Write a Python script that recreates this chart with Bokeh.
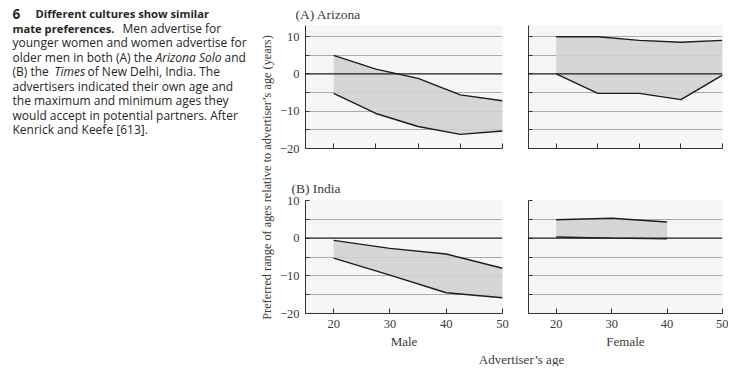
import math
from bokeh.plotting import figure
from bokeh.models import Range1d, FixedTicker, Span, Title
from bokeh.layouts import row, column
from bokeh.core.properties import value
from bokeh.embed import file_html
from bokeh.resources import INLINE

# ---------------- data ----------------
az_ages = [20, 27.5, 35, 42.5, 50]
az_male_max = [5.0, 1.3, -1.2, -5.6, -7.2]
az_male_min = [-5.2, -10.6, -14.1, -16.2, -15.3]
az_female_max = [10.0, 10.0, 9.0, 8.5, 9.0]
az_female_min = [0.0, -5.2, -5.2, -6.9, -0.3]

in_male_ages = [20, 30, 40, 50]
in_male_max = [-0.6, -2.7, -4.2, -8.0]
in_male_min = [-5.3, -9.8, -14.5, -15.8]
in_female_ages = [20, 30, 40]
in_female_max = [4.9, 5.3, 4.3]
in_female_min = [0.3, 0.0, -0.2]

y_ticks = [-20, -15, -10, -5, 0, 5, 10]
y_labels = {-20: "\u221220", -15: "", -10: "\u221210", -5: "", 0: "0", 5: "", 10: "10"}
grid_levels = [-15, -10, -5, 5, 10]
top_x_ticks = [20, 27.5, 35, 42.5, 50]
bottom_x_ticks = [20, 30, 40, 50]

SERIF = "Liberation Serif"
SANS = "Open Sans"
TXT = "#3a3a3a"
LINE = "#1c1c1c"


def panel(ages, vmin, vmax, y_end, x_ticks, show_x_labels, show_y_labels,
          ml, mr, mt, mb, fw, fh, xlabel=None, title=None, t_off=0, t_stand=0):
    p = figure(frame_width=fw, frame_height=fh,
               x_range=Range1d(15, 50), y_range=Range1d(-20, y_end),
               min_border_left=ml, min_border_right=mr,
               min_border_top=mt, min_border_bottom=mb,
               toolbar_location=None, output_backend="svg",
               outline_line_color=None, background_fill_color="#f6f6f6",
               border_fill_color="white")
    p.xgrid.visible = False
    p.ygrid.ticker = FixedTicker(ticks=grid_levels)
    p.ygrid.grid_line_color = "#ababab"
    p.ygrid.grid_line_width = 1

    p.varea(x=ages, y1=vmin, y2=vmax, fill_color="#d0d0d0", fill_alpha=0.85)
    p.line(ages, vmax, line_color=LINE, line_width=1.4)
    p.line(ages, vmin, line_color=LINE, line_width=1.4)
    p.add_layout(Span(location=0, dimension="width", line_color=LINE, line_width=1.2))

    for ax in (p.xaxis[0], p.yaxis[0]):
        ax.axis_line_color = "#333333"
        ax.major_tick_line_color = "#333333"
        ax.major_tick_in = 5
        ax.major_tick_out = 0
        ax.minor_tick_line_color = None
        ax.major_label_text_font = SERIF
        ax.major_label_text_color = TXT

    xa = p.xaxis[0]
    xa.ticker = FixedTicker(ticks=x_ticks)
    if show_x_labels:
        xa.major_label_text_font_size = "12.5px"
        xa.major_label_standoff = 6
    else:
        xa.major_label_text_font_size = "1px"
        xa.major_label_text_alpha = 0
        xa.major_label_standoff = 0
    if xlabel:
        xa.axis_label = xlabel
        xa.axis_label_text_font = SERIF
        xa.axis_label_text_font_style = "normal"
        xa.axis_label_text_font_size = "13px"
        xa.axis_label_text_color = TXT
        xa.axis_label_standoff = 3

    ya = p.yaxis[0]
    ya.ticker = FixedTicker(ticks=y_ticks)
    ya.major_tick_in = 4
    if show_y_labels:
        ya.major_label_overrides = y_labels
        ya.major_label_text_font_size = "12.5px"
        ya.major_label_standoff = 6
    else:
        ya.major_label_text_font_size = "1px"
        ya.major_label_text_alpha = 0
        ya.major_label_standoff = 0

    if title:
        t = Title(text=title, align="left", offset=t_off, standoff=t_stand,
                  text_font=SERIF, text_font_size="13.5px",
                  text_font_style="normal", text_color=TXT)
        p.add_layout(t, "above")
    return p


az_m = panel(az_ages, az_male_min, az_male_max, 13, top_x_ticks, False, True,
             28, 14, 25, 17, 197, 123, title="(A)  Arizona", t_off=-10, t_stand=7)
az_f = panel(az_ages, az_female_min, az_female_max, 13, top_x_ticks, False, False,
             12, 6, 25, 17, 194, 123)
in_m = panel(in_male_ages, in_male_min, in_male_max, 10, bottom_x_ticks, True, True,
             28, 14, 35, 37, 197, 113, xlabel="Male", title="(B)  India", t_off=-14, t_stand=9)
in_f = panel(in_female_ages, in_female_min, in_female_max, 10, bottom_x_ticks, True, False,
             12, 6, 35, 37, 194, 113, xlabel="Female")

# ---------------- caption + shared y label ----------------
cap = figure(width=276, height=365, x_range=Range1d(0, 276), y_range=Range1d(365, 0),
             x_axis_type=None, y_axis_type=None, min_border=0,
             toolbar_location=None, output_backend="svg", outline_line_color=None)
cap.grid.visible = False

CAP_COL = "#262626"
def ctext(x, y, s, style="normal", size="12px"):
    cap.text(x=[x], y=[y], text=[s], text_font=value(SANS), text_font_size=size,
             text_font_style=style, text_color=CAP_COL, text_align="left",
             text_baseline="middle")

ly = [13 + 14.5 * i for i in range(9)]
ctext(12, ly[0], "6", "bold", "13.5px")
ctext(35, ly[0], "Different cultures show similar", "bold", "11.2px")
ctext(12, ly[1], "mate preferences.", "bold", "11.2px")
ctext(122, ly[1], "Men advertise for")
ctext(12, ly[2], "younger women and women advertise for")
ctext(12, ly[3], "older men in both (A) the")
ctext(155, ly[3], "Arizona Solo", "italic")
ctext(224, ly[3], "and")
ctext(12, ly[4], "(B) the")
ctext(54, ly[4], "Times", "italic")
ctext(87, ly[4], "of New Delhi, India. The")
ctext(12, ly[5], "advertisers indicated their own age and")
ctext(12, ly[6], "the maximum and minimum ages they")
ctext(12, ly[7], "would accept in potential partners. After")
ctext(12, ly[8], "Kenrick and Keefe [613].")

cap.text(x=[266], y=[177], text=["Preferred range of ages relative to advertiser\u2019s age (years)"],
         angle=math.pi / 2, text_font=value(SERIF), text_font_size="12.3px",
         text_color=TXT, text_align="center", text_baseline="middle")

# ---------------- shared x label ----------------
bot = figure(width=451, height=15, x_range=Range1d(0, 451), y_range=Range1d(15, 0),
             x_axis_type=None, y_axis_type=None, min_border=0,
             toolbar_location=None, output_backend="svg", outline_line_color=None)
bot.grid.visible = False
bot.text(x=[245], y=[8], text=["Advertiser\u2019s age"], text_font=value(SERIF),
         text_font_size="13px", text_color=TXT, text_align="center", text_baseline="middle")

layout = row(cap, column(row(az_m, az_f), row(in_m, in_f), bot))

open("out.html", "w").write(file_html(layout, INLINE))
